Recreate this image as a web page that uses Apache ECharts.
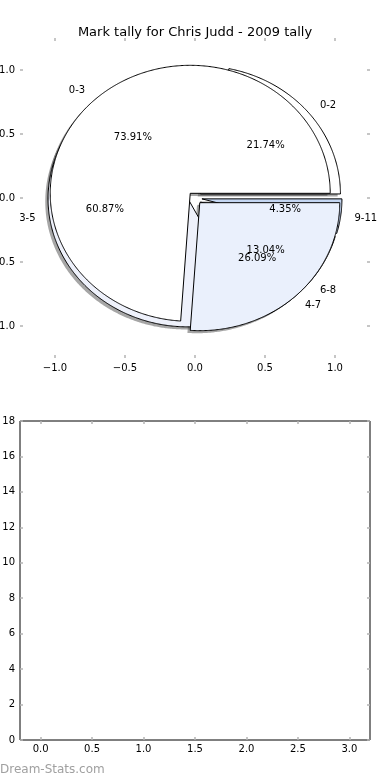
<!DOCTYPE html>
<html>
<head>
<meta charset="UTF-8">
<title>Mark tally</title>
<script src="https://cdn.jsdelivr.net/npm/echarts@6.0.0/dist/echarts.min.js"></script>
<style>
    body { margin: 0; padding: 0; overflow: hidden; background: #fff; }
    #chart { width: 390px; height: 780px; }
</style>
</head>
<body>
<div id="chart"></div>
<script>
    const titleText = 'Mark tally for Chris Judd - 2009 tally';
    // two pies drawn on the same axes
    const pie1Labels = ['0-2', '3-5', '6-8', '9-11'];
    const pie1Values = [5, 14, 3, 1];
    const pie2Labels = ['0-3', '4-7'];
    const pie2Values = [17, 6];
    const pieTicks = [-1, -0.5, 0, 0.5, 1];
    // lower panel is empty
    const barTicksX = [0, 0.5, 1, 1.5, 2, 2.5, 3];
    const barValues = [];

    const pieColors = [
        ['#ffffff', '#eef1fb', '#ffffff', '#c4d6f2'],
        ['#ffffff', '#eaf0fc']
    ];
    const pieLabels = [pie1Labels, pie2Labels];
    const EXPLODE = 0.05;
    const FONT = '"DejaVu Sans", sans-serif';
    const TICK = '#b4b4b4';

    // rows: [startFrac, endFrac, pieIdx, wedgeIdx, value, total]
    const wedgeRows = [];
    [pie1Values, pie2Values].forEach((vals, p) => {
        const total = vals.reduce((a, b) => a + b, 0);
        let acc = 0;
        vals.forEach((v, i) => {
            wedgeRows.push([acc / total, (acc + v) / total, p, i, v, total]);
            acc += v;
        });
    });

    function wedgeGeom(api, off) {
        const t1 = api.value(0) * 2 * Math.PI, t2 = api.value(1) * 2 * Math.PI;
        const tm = (t1 + t2) / 2;
        const cx = EXPLODE * Math.cos(tm) + off, cy = EXPLODE * Math.sin(tm) + off;
        const pts = [api.coord([cx, cy])];
        const n = Math.max(2, Math.ceil((t2 - t1) / (Math.PI / 360)));
        for (let i = 0; i <= n; i++) {
            const t = t1 + (t2 - t1) * i / n;
            pts.push(api.coord([cx + Math.cos(t), cy + Math.sin(t)]));
        }
        return {pts, tm, cx, cy};
    }

    function tickFmt(v) {
        return (v < 0 ? '\u2212' : '') + Math.abs(v).toFixed(1);
    }

    const tickStyle = {show: true, inside: true, length: 3, lineStyle: {color: TICK, width: 1.5}};
    const noLine = {show: false, onZero: false};

    const ec = echarts.init(document.getElementById('chart'));
    const option = {
        animation: false,
        backgroundColor: '#fff',
        title: {
            text: titleText, left: 'center', top: 21,
            textStyle: {fontFamily: FONT, fontSize: 13, fontWeight: 'normal', color: '#000'}
        },
        graphic: [{
            type: 'text', left: 0, top: 764,
            style: {text: 'Dream-Stats.com', font: '12px ' + FONT, fill: '#a0a0a0'}
        }],
        grid: [
            {left: 20, right: 20, top: 38, height: 320, outerBoundsMode: 'none'},
            {left: 20, right: 20, top: 421, bottom: 40, outerBoundsMode: 'none',
                show: true, borderColor: '#000', borderWidth: 1}
        ],
        xAxis: [
            {
                type: 'value', gridIndex: 0, min: -1.25, max: 1.25, position: 'bottom',
                splitLine: {show: false}, axisLine: noLine,
                axisTick: Object.assign({customValues: pieTicks}, tickStyle),
                axisLabel: {customValues: pieTicks, formatter: tickFmt, margin: 5,
                    fontFamily: FONT, fontSize: 10, color: '#000'}
            },
            {
                type: 'value', gridIndex: 0, min: -1.25, max: 1.25, position: 'top',
                splitLine: {show: false}, axisLine: noLine,
                axisTick: Object.assign({customValues: pieTicks}, tickStyle),
                axisLabel: {show: false}
            },
            {
                type: 'value', gridIndex: 1, min: -0.2, max: 3.2, position: 'bottom',
                splitLine: {show: false}, axisLine: noLine,
                axisTick: Object.assign({customValues: barTicksX}, tickStyle),
                axisLabel: {customValues: barTicksX, formatter: v => v.toFixed(1), margin: 4,
                    fontFamily: FONT, fontSize: 10, color: '#000'}
            },
            {
                type: 'value', gridIndex: 1, min: -0.2, max: 3.2, position: 'top',
                splitLine: {show: false}, axisLine: noLine,
                axisTick: Object.assign({customValues: barTicksX}, tickStyle),
                axisLabel: {show: false}
            }
        ],
        yAxis: [
            {
                type: 'value', gridIndex: 0, min: -1.25, max: 1.25, position: 'left',
                splitLine: {show: false}, axisLine: noLine,
                axisTick: Object.assign({customValues: pieTicks}, tickStyle),
                axisLabel: {customValues: pieTicks, formatter: tickFmt, margin: 5,
                    fontFamily: FONT, fontSize: 10, color: '#000'}
            },
            {
                type: 'value', gridIndex: 0, min: -1.25, max: 1.25, position: 'right',
                splitLine: {show: false}, axisLine: noLine,
                axisTick: Object.assign({customValues: pieTicks}, tickStyle),
                axisLabel: {show: false}
            },
            {
                type: 'value', gridIndex: 1, min: 0, max: 18, interval: 2, position: 'left',
                splitLine: {show: false}, axisLine: noLine,
                axisTick: tickStyle,
                axisLabel: {margin: 5, fontFamily: FONT, fontSize: 10, color: '#000'}
            },
            {
                type: 'value', gridIndex: 1, min: 0, max: 18, interval: 2, position: 'right',
                splitLine: {show: false}, axisLine: noLine,
                axisTick: tickStyle,
                axisLabel: {show: false}
            }
        ],
        series: [
            {
                // shadows, under every wedge
                type: 'custom', xAxisIndex: 0, yAxisIndex: 0, z: 1, silent: true,
                data: wedgeRows,
                renderItem: (params, api) => {
                    const g = wedgeGeom(api, -0.02);
                    return {type: 'polygon', shape: {points: g.pts},
                        style: {fill: 'rgba(77,77,77,0.5)', stroke: null}};
                }
            },
            {
                type: 'custom', xAxisIndex: 0, yAxisIndex: 0, z: 2, silent: true,
                data: wedgeRows,
                renderItem: (params, api) => {
                    const g = wedgeGeom(api, 0);
                    const p = api.value(2), w = api.value(3);
                    return {type: 'polygon', shape: {points: g.pts},
                        style: {fill: pieColors[p][w], stroke: '#000', lineWidth: 1}};
                }
            },
            {
                type: 'custom', xAxisIndex: 0, yAxisIndex: 0, z: 3, silent: true,
                data: wedgeRows,
                renderItem: (params, api) => {
                    const t1 = api.value(0) * 2 * Math.PI, t2 = api.value(1) * 2 * Math.PI;
                    const tm = (t1 + t2) / 2;
                    const cx = EXPLODE * Math.cos(tm), cy = EXPLODE * Math.sin(tm);
                    const p = api.value(2), w = api.value(3);
                    const lx = cx + 1.1 * Math.cos(tm), ly = cy + 1.1 * Math.sin(tm);
                    const px = cx + 0.6 * Math.cos(tm), py = cy + 0.6 * Math.sin(tm);
                    const lp = api.coord([lx, ly]), pp = api.coord([px, py]);
                    const pct = (api.value(4) / api.value(5) * 100).toFixed(2) + '%';
                    return {type: 'group', children: [
                        {type: 'text', style: {text: pieLabels[p][w], x: lp[0], y: lp[1],
                            textAlign: lx > 0 ? 'left' : 'right', textVerticalAlign: 'middle',
                            font: '10px ' + FONT, fill: '#000'}},
                        {type: 'text', style: {text: pct, x: pp[0], y: pp[1],
                            textAlign: 'center', textVerticalAlign: 'middle',
                            font: '10px ' + FONT, fill: '#000'}}
                    ]};
                }
            },
            {
                type: 'bar', xAxisIndex: 2, yAxisIndex: 2,
                data: barValues
            }
        ]
    };
    ec.setOption(option);
</script>
</body>
</html>
